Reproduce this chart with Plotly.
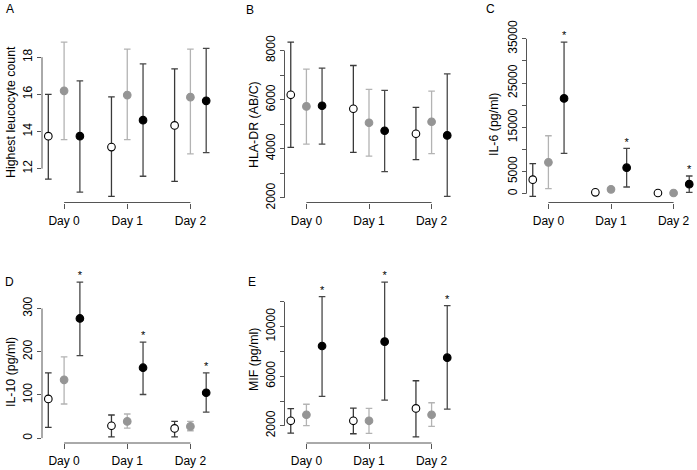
import plotly.graph_objects as go

W, H = 697, 470
FONT = "Liberation Sans, Arial, sans-serif"

days = ["Day 0", "Day 1", "Day 2"]
day_pos = [0, 1, 2]
group_offsets = [-0.25, 0.0, 0.25]  # open circle, grey, black

# ---------------- Panel A: Highest leucocyte count ----------------
a_open = [13.75, 13.16, 14.33]
a_open_lo = [11.44, 10.51, 11.32]
a_open_hi = [16.00, 15.87, 17.37]
a_grey = [16.19, 15.96, 15.85]
a_grey_lo = [13.56, 13.56, 12.80]
a_grey_hi = [18.81, 18.43, 18.43]
a_black = [13.75, 14.61, 15.65]
a_black_lo = [10.74, 11.59, 12.86]
a_black_hi = [16.73, 17.64, 18.48]
a_stars = ["", "", ""]
a_yticks = [12, 14, 16, 18]
a_ylabels = ["12", "14", "16", "18"]

# ---------------- Panel B: HLA-DR (AB/C) ----------------
b_open = [6198, 5629, 4612]
b_open_lo = [4057, 3854, 3556]
b_open_hi = [8339, 7390, 5683]
b_grey = [5724, 5060, 5100]
b_grey_lo = [4192, 3705, 3799]
b_grey_hi = [7241, 6415, 6347]
b_black = [5751, 4734, 4545]
b_black_lo = [4192, 3068, 2065]
b_black_hi = [7282, 6374, 7051]
b_stars = ["", "", ""]
b_yticks = [2000, 3000, 4000, 5000, 6000, 7000, 8000]
b_ylabels = ["2000", "", "4000", "", "6000", "", "8000"]

# ---------------- Panel C: IL-6 (pg/ml) ----------------
c_open = [3161, 301, 150]
c_open_lo = [-602, 301, 150]
c_open_hi = [6774, 301, 150]
c_grey = [7075, 978, 150]
c_grey_lo = [1129, 978, 150]
c_grey_hi = [13097, 978, 150]
c_black = [21527, 5871, 2150]
c_black_lo = [9108, 1505, 300]
c_black_hi = [34248, 10237, 4000]
c_stars = ["*", "*", "*"]
c_yticks = [0, 5000, 10000, 15000, 20000, 25000, 30000, 35000]
c_ylabels = ["0", "5000", "", "15000", "", "25000", "", "35000"]

# ---------------- Panel D: IL-10 (pg/ml) ----------------
d_open = [90.7, 28.6, 22.4]
d_open_lo = [24.7, 3, 3]
d_open_hi = [151, 53.5, 38.6]
d_grey = [135, 38.6, 27]
d_grey_lo = [79, 23, 17]
d_grey_hi = [188, 55.8, 38.6]
d_black = [277, 163, 105]
d_black_lo = [191, 101, 60]
d_black_hi = [361, 222, 151]
d_stars = ["*", "*", "*"]
d_yticks = [0, 100, 200, 300]
d_ylabels = ["0", "100", "200", "300"]

# ---------------- Panel E: MIF (pg/ml) ----------------
e_open = [2404, 2404, 3404]
e_open_lo = [1410, 1358, 1111]
e_open_hi = [3390, 3430, 5636]
e_grey = [2890, 2404, 2890]
e_grey_lo = [2015, 1386, 1950]
e_grey_hi = [3740, 3404, 3859]
e_black = [8440, 8788, 7495]
e_black_lo = [4370, 4077, 3340]
e_black_hi = [12424, 13588, 11697]
e_stars = ["*", "*", "*"]
e_yticks = [2000, 4000, 6000, 8000, 10000, 12000]
e_ylabels = ["2000", "", "6000", "", "10000", ""]

panel_letters = ["A", "B", "C", "D", "E"]
y_titles = ["Highest leucocyte count", "HLA-DR (AB/C)", "IL-6 (pg/ml)",
            "IL-10 (pg/ml)", "MIF (pg/ml)"]

panels = [
    dict(series=[(a_open, a_open_lo, a_open_hi), (a_grey, a_grey_lo, a_grey_hi),
                 (a_black, a_black_lo, a_black_hi)], stars=a_stars,
         yticks=a_yticks, ylabels=a_ylabels),
    dict(series=[(b_open, b_open_lo, b_open_hi), (b_grey, b_grey_lo, b_grey_hi),
                 (b_black, b_black_lo, b_black_hi)], stars=b_stars,
         yticks=b_yticks, ylabels=b_ylabels),
    dict(series=[(c_open, c_open_lo, c_open_hi), (c_grey, c_grey_lo, c_grey_hi),
                 (c_black, c_black_lo, c_black_hi)], stars=c_stars,
         yticks=c_yticks, ylabels=c_ylabels),
    dict(series=[(d_open, d_open_lo, d_open_hi), (d_grey, d_grey_lo, d_grey_hi),
                 (d_black, d_black_lo, d_black_hi)], stars=d_stars,
         yticks=d_yticks, ylabels=d_ylabels),
    dict(series=[(e_open, e_open_lo, e_open_hi), (e_grey, e_grey_lo, e_grey_hi),
                 (e_black, e_black_lo, e_black_hi)], stars=e_stars,
         yticks=e_yticks, ylabels=e_ylabels),
]

# layout geometry (window pixels)
x_dom_px = [(42, 212.5), (284.5, 453.5), (526.5, 695.5), (42, 212.5), (284.5, 453.5)]
y_dom_px = [(36, 202.5), (36, 202.5), (36, 202.5), (276, 443), (276, 443)]
letter_px = [(10, 9), (250, 10), (490, 9), (9, 282), (252, 282)]
ytitle_px = [(11, 112), (254, 125), (494, 125), (11, 372), (254, 360)]


def px_x(v):
    return v / W


def px_y(v):
    return 1 - v / H


marker_fill = ["white", "#959595", "black"]
marker_edge = ["black", "#959595", "black"]
bar_color = ["#3a3a3a", "#b3b3b3", "#474747"]
axis_color = "#555555"

fig = go.Figure()
annotations = []
shapes = []
layout_axes = {}

for i, p in enumerate(panels):
    sfx = "" if i == 0 else str(i + 1)
    xa, ya = "x" + sfx, "y" + sfx
    all_lo = min(min(s[1]) for s in p["series"])
    all_hi = max(max(s[2]) for s in p["series"])
    pad = 0.04 * (all_hi - all_lo)
    yr = [all_lo - pad, all_hi + pad]
    xmin = day_pos[0] + group_offsets[0]
    xmax = day_pos[-1] + group_offsets[-1]
    xpad = 0.04 * (xmax - xmin)
    xr = [xmin - xpad, xmax + xpad]

    for k, (mid, lo, hi) in enumerate(p["series"]):
        xs = [d + group_offsets[k] for d in day_pos]
        fig.add_trace(go.Scatter(
            x=xs, y=mid, mode="markers", xaxis=xa, yaxis=ya, cliponaxis=False,
            marker=dict(size=7.6, color=marker_fill[k],
                        line=dict(color=marker_edge[k], width=1.1)),
            error_y=dict(type="data", symmetric=False,
                         array=[h - m for h, m in zip(hi, mid)],
                         arrayminus=[m - l for m, l in zip(mid, lo)],
                         color=bar_color[k], thickness=1.3, width=3.3),
            hoverinfo="skip", showlegend=False))
        if k == 2:
            fig.add_trace(go.Scatter(
                x=xs, y=hi, mode="text", text=p["stars"], xaxis=xa, yaxis=ya,
                textposition="top center", cliponaxis=False,
                textfont=dict(family=FONT, size=11, color="#000000"),
                hoverinfo="skip", showlegend=False))

    x0, x1 = x_dom_px[i]
    y0, y1 = y_dom_px[i]
    tickfont = dict(family=FONT, size=12, color="black")
    layout_axes["xaxis" + sfx] = dict(
        domain=[px_x(x0), px_x(x1)], range=xr, anchor=ya, automargin=False,
        tickvals=day_pos, ticktext=days, ticks="outside", ticklen=5,
        tickwidth=1, tickcolor=axis_color, showline=False, showgrid=False,
        zeroline=False, tickfont=tickfont, fixedrange=True,
        ticklabelstandoff=2)
    layout_axes["yaxis" + sfx] = dict(
        domain=[px_y(y1), px_y(y0)], range=yr, anchor=xa, automargin=False,
        tickvals=p["yticks"], ticktext=p["ylabels"], tickangle=-90,
        ticks="outside", ticklen=4, tickwidth=1, tickcolor=axis_color,
        showline=False, showgrid=False, zeroline=False, tickfont=tickfont,
        fixedrange=True)

    # R-style axis lines spanning first to last tick
    shapes.append(dict(type="line", xref=xa, yref=ya + " domain",
                       x0=day_pos[0], x1=day_pos[-1], y0=0, y1=0,
                       line=dict(color=axis_color, width=1)))
    shapes.append(dict(type="line", xref=xa + " domain", yref=ya,
                       x0=0, x1=0, y0=p["yticks"][0], y1=p["yticks"][-1],
                       line=dict(color=axis_color, width=1)))

    lx, ly = letter_px[i]
    annotations.append(dict(text=panel_letters[i], x=px_x(lx), y=px_y(ly),
                            xref="paper", yref="paper", showarrow=False,
                            xanchor="center", yanchor="middle",
                            font=dict(family=FONT, size=12, color="black")))
    tx, ty = ytitle_px[i]
    annotations.append(dict(text=y_titles[i], x=px_x(tx), y=px_y(ty),
                            xref="paper", yref="paper", showarrow=False,
                            textangle=-90, xanchor="center", yanchor="middle",
                            font=dict(family=FONT, size=12.4, color="black")))

fig.update_layout(
    width=W, height=H, margin=dict(l=0, r=0, t=0, b=0),
    paper_bgcolor="white", plot_bgcolor="white", showlegend=False,
    annotations=annotations, shapes=shapes, **layout_axes)

# place the figure flush with the page corner (no default body margin)
fig.write_html("out.html",
               config={"displayModeBar": False, "staticPlot": True},
               post_script="document.body.style.margin='0';"
                           "document.body.style.overflow='hidden';")
